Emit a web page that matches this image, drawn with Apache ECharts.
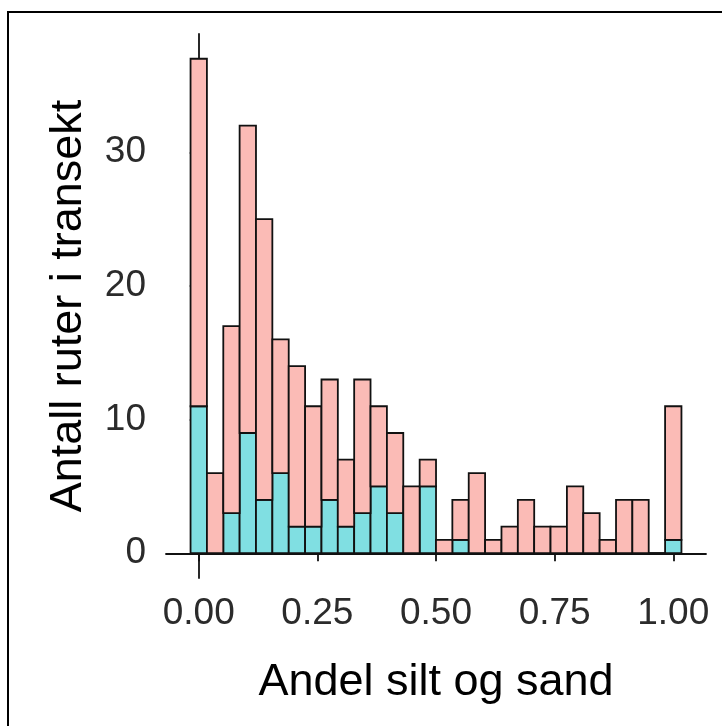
<!DOCTYPE html>
<html>
<head>
<meta charset="utf-8">
<script src="https://cdn.jsdelivr.net/npm/echarts@6/dist/echarts.min.js"></script>
<style>
html,body{margin:0;padding:0;background:#fff;}
#chart{width:722px;height:726px;}
</style>
</head>
<body>
<div id="chart"></div>
<script>
// Histogram bin midpoints (30 bins over 0..1)
var binCenters = [0.0000, 0.0345, 0.0690, 0.1034, 0.1379, 0.1724, 0.2069, 0.2414, 0.2759, 0.3103,
                  0.3448, 0.3793, 0.4138, 0.4483, 0.4828, 0.5172, 0.5517, 0.5862, 0.6207, 0.6552,
                  0.6897, 0.7241, 0.7586, 0.7931, 0.8276, 0.8621, 0.8966, 0.9310, 0.9655, 1.0000];
var binWidth = 0.03448;
// Counts per bin (teal = bottom group, pink = top group)
var tealCounts = [11, 0, 3, 9, 4, 6, 2, 2, 4, 2, 3, 5, 3, 0, 5, 0, 1, 0, 0, 0, 0, 0, 0, 0, 0, 0, 0, 0, 0, 1];
var pinkCounts = [26, 6, 14, 23, 21, 10, 12, 9, 9, 5, 10, 6, 6, 5, 2, 1, 3, 6, 1, 2, 4, 2, 2, 5, 3, 1, 4, 4, 0, 10];
var xTicks = [0, 0.25, 0.5, 0.75, 1];
var yTicks = [0, 10, 20, 30];

var tealData = [], pinkData = [];
for (var i = 0; i < binCenters.length; i++) {
  tealData.push([binCenters[i], 0, tealCounts[i]]);
  pinkData.push([binCenters[i], tealCounts[i], tealCounts[i] + pinkCounts[i]]);
}

function makeRender(fill) {
  return function (params, api) {
    var c = api.value(0), b = api.value(1), t = api.value(2);
    var p0 = api.coord([c - binWidth / 2, b]);
    var p1 = api.coord([c + binWidth / 2, t]);
    return {
      type: 'rect',
      shape: { x: p0[0], y: p1[1], width: p1[0] - p0[0], height: p0[1] - p1[1] },
      style: { fill: fill, stroke: '#111', lineWidth: 1.8 }
    };
  };
}

var chart = echarts.init(document.getElementById('chart'), null, { renderer: 'canvas' });
var font = 'Liberation Sans, Arial, sans-serif';
chart.setOption({
  animation: false,
  backgroundColor: '#ffffff',
  grid: { left: 166, right: 16, top: 34, bottom: 148, containLabel: false },
  graphic: [{
    type: 'rect', silent: true, z: -1,
    shape: { x: 8, y: 12, width: 760, height: 760 },
    style: { fill: 'none', stroke: '#000', lineWidth: 2 }
  }],
  xAxis: {
    type: 'value', min: -0.06897, max: 1.06897,
    name: 'Andel silt og sand', nameLocation: 'middle', nameGap: 82,
    nameTextStyle: { fontFamily: font, fontSize: 45, color: '#000' },
    axisLine: { lineStyle: { color: '#111', width: 1.8 } },
    axisTick: { customValues: xTicks, length: 8, lineStyle: { color: '#111', width: 1.8 } },
    axisLabel: { customValues: xTicks, margin: 17, fontFamily: font, fontSize: 37, color: '#2b2b2b',
      formatter: function (v) { return v.toFixed(2); } },
    splitLine: { show: false }
  },
  yAxis: {
    type: 'value', min: -1.85, max: 38.85,
    name: 'Antall ruter i transekt', nameLocation: 'middle', nameGap: 75,
    nameTextStyle: { fontFamily: font, fontSize: 45, color: '#000' },
    axisLine: { show: true, lineStyle: { color: '#111', width: 1.8 } },
    axisTick: { show: true, customValues: yTicks, length: 9, lineStyle: { color: '#111', width: 1.8 } },
    axisLabel: { customValues: yTicks, margin: 20, fontFamily: font, fontSize: 37, color: '#2b2b2b' },
    splitLine: { show: false }
  },
  series: [
    { type: 'custom', name: 'teal', renderItem: makeRender('#80DFE2'), data: tealData, encode: { x: 0, y: [1, 2] } },
    { type: 'custom', name: 'pink', renderItem: makeRender('#FBBBB6'), data: pinkData, encode: { x: 0, y: [1, 2] } }
  ]
});
</script>
</body>
</html>
